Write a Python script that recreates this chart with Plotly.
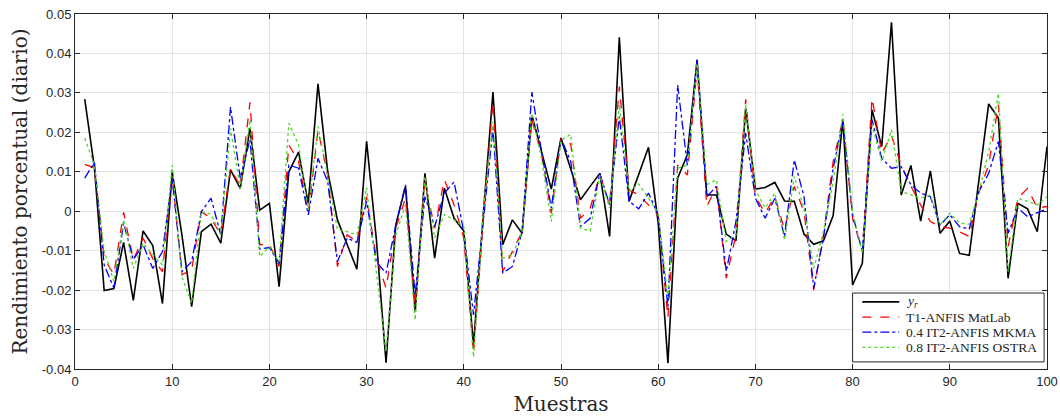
import plotly.graph_objects as go

muestras = list(range(1, 101))

y_r = [0.0284, 0.011, -0.0201, -0.0196, -0.0079, -0.0226, -0.005, -0.0087, -0.0234, 0.010,
       -0.006, -0.0242, -0.0052, -0.0033, -0.0081, 0.0105, 0.0058, 0.021, 0.0003, 0.002,
       -0.0191, 0.010, 0.015, 0.002, 0.0323, 0.010, -0.0022, -0.0085, -0.0147, 0.0177,
       -0.007, -0.0384, -0.0035, 0.0063, -0.0254, 0.0096, -0.0119, 0.0058, -0.0018, -0.005,
       -0.034, -0.001, 0.0302, -0.0085, -0.0022, -0.0056, 0.0244, 0.0151, 0.0056, 0.0185,
       0.0109, 0.0029, 0.0063, 0.0096, -0.0064, 0.0441, 0.0025, 0.0092, 0.0162, -0.003,
       -0.0385, 0.0084, 0.0143, 0.0384, 0.0041, 0.0041, -0.0058, -0.0075, 0.0261, 0.0056,
       0.006, 0.0073, 0.0026, 0.0025, -0.0058, -0.0084, -0.0075, -0.0011, 0.0232, -0.0187,
       -0.0132, 0.0257, 0.0164, 0.0479, 0.0041, 0.0116, -0.0025, 0.0102, -0.0056, -0.0025,
       -0.0107, -0.0112, 0.0075, 0.0272, 0.0236, -0.017, 0.002, 0.0006, -0.0052, 0.0164]

t1_matlab = [0.0119, 0.011, -0.012, -0.016, -0.0003, -0.0123, -0.0068, -0.012, -0.0153, 0.009,
             -0.0161, -0.0149, -0.0001, -0.0018, -0.006, 0.0109, 0.0063, 0.0276, -0.0085, -0.0084,
             -0.014, 0.0168, 0.0126, -0.0005, 0.0206, 0.009, -0.014, -0.006, -0.0077, 0.0037,
             -0.0119, -0.0195, -0.0043, 0.0033, -0.0238, 0.0075, -0.0043, 0.008, 0.0016, -0.0068,
             -0.036, -0.002, 0.0278, -0.0153, -0.0102, -0.0052, 0.0232, 0.0143, -0.0005, 0.0185,
             0.017, -0.0018, 0.0008, 0.0092, 0.0016, 0.0316, 0.0054, 0.0041, 0.0016, -0.001,
             -0.027, 0.0117, 0.0092, 0.0363, 0.0012, 0.0063, -0.017, -0.006, 0.0284, 0.0037,
             -0.0005, 0.0037, -0.0047, 0.0063, -0.0001, -0.020, -0.006, 0.0126, 0.0232, -0.0018,
             -0.0102, 0.0287, 0.0147, 0.0192, 0.0117, 0.0063, 0.0016, -0.0026, -0.0039, -0.0043,
             -0.0052, -0.0064, 0.005, 0.0117, 0.027, -0.009, 0.0033, 0.0058, 0.0008, 0.0012]

it2_mkma = [0.0084, 0.0124, -0.0136, -0.0195, -0.003, -0.0123, -0.0085, -0.0145, -0.0102, 0.0084,
            -0.0153, -0.0128, -0.0001, 0.0033, -0.006, 0.0264, 0.0084, 0.0181, -0.0096, -0.0092,
            -0.0132, 0.0117, 0.0109, -0.0009, 0.0134, 0.0075, -0.0128, -0.0068, -0.0079, 0.0025,
            -0.0128, -0.0157, -0.0035, 0.0067, -0.0212, 0.0037, -0.0039, 0.0046, 0.0074, -0.0052,
            -0.0263, -0.003, 0.021, -0.0157, -0.014, -0.0052, 0.0302, 0.0151, 0.0008, 0.0185,
            0.0126, -0.0039, -0.0018, 0.0096, 0.0016, 0.024, 0.0025, 0.0006, 0.0046, -0.001,
            -0.0242, 0.032, 0.0117, 0.0384, 0.0037, 0.0063, -0.0153, -0.0026, 0.0198, 0.0033,
            -0.0018, 0.0033, -0.0064, 0.013, 0.0037, -0.0195, -0.0068, 0.0109, 0.0227, -0.0009,
            -0.0102, 0.0232, 0.0134, 0.0109, 0.0113, 0.0067, 0.0046, 0.0037, -0.0035, -0.0009,
            -0.0039, -0.0045, 0.005, 0.0096, 0.0177, -0.0056, 0.0008, -0.0014, -0.0005, 0.0006]

it2_ostra = [0.0185, 0.0117, -0.010, -0.0178, -0.0022, -0.0145, -0.0081, -0.011, -0.0136, 0.0117,
             -0.0166, -0.0233, -0.0001, -0.0008, -0.006, 0.021, 0.0058, 0.0232, -0.0115, -0.009,
             -0.0128, 0.0223, 0.0168, 0.0003, 0.0215, 0.009, -0.0047, -0.0052, -0.006, 0.006,
             -0.0153, -0.0356, -0.006, 0.0016, -0.0276, 0.0088, -0.0068, -0.0008, -0.0022, -0.0039,
             -0.037, 0.0, 0.0227, -0.0119, -0.011, -0.0052, 0.0248, 0.0134, -0.0026, 0.018,
             0.0195, -0.0043, -0.005, 0.0092, 0.0008, 0.027, 0.005, 0.0069, 0.0033, -0.0005,
             -0.022, 0.0109, 0.0117, 0.0375, 0.0067, 0.008, -0.0077, -0.006, 0.027, 0.0054,
             0.0008, 0.0046, -0.0073, 0.0088, 0.0008, -0.0145, -0.0052, 0.0075, 0.0246, -0.0001,
             -0.0107, 0.0219, 0.0126, 0.0206, 0.005, 0.0041, 0.0033, 0.0041, -0.0035, -0.0005,
             -0.003, -0.0033, 0.005, 0.0151, 0.0299, -0.0153, 0.0033, 0.0025, 0.0016, 0.0037]

series_names = ["<i>y<sub>r</sub></i>", "T1-ANFIS MatLab", "0.4 IT2-ANFIS MKMA", "0.8 IT2-ANFIS OSTRA"]

x_ticks = list(range(0, 101, 10))
y_ticks = [-0.04, -0.03, -0.02, -0.01, 0, 0.01, 0.02, 0.03, 0.04, 0.05]
y_ticktext = ["-0.04", "-0.03", "-0.02", "-0.01", "0", "0.01", "0.02", "0.03", "0.04", "0.05"]

serif = "DejaVu Serif"
legend_serif = "Liberation Serif"
sans = "Liberation Sans"

styles = [dict(color="black", width=1.6, dash="solid"),
          dict(color="#ff0000", width=1.3, dash="dash"),
          dict(color="#0000ff", width=1.3, dash="dashdot"),
          dict(color="#4fd62a", width=1.3, dash="dot")]

fig = go.Figure()
for vals, name, st in zip([y_r, t1_matlab, it2_mkma, it2_ostra], series_names, styles):
    fig.add_trace(go.Scatter(x=muestras, y=vals, mode="lines", name=name,
                             line=st, showlegend=False))

axis_common = dict(showline=True, linecolor="#262626", linewidth=1, mirror="ticks",
                   ticks="inside", ticklen=5, tickcolor="#262626", automargin=False,
                   showgrid=True, gridcolor="#e3e3e3", gridwidth=1, zeroline=False,
                   tickfont=dict(family=sans, size=13, color="#262626"))

# Legend box drawn in paper coordinates (MATLAB-like compact legend)
shapes = [dict(type="rect", xref="paper", yref="paper", x0=0.800, x1=0.997, y0=0.020, y1=0.214,
               line=dict(color="#262626", width=1), fillcolor="white", layer="above")]
annotations = []
row_y = [0.189, 0.146, 0.104, 0.061]
for name, st, yy in zip(series_names, styles, row_y):
    shapes.append(dict(type="line", xref="paper", yref="paper", x0=0.810, x1=0.848, y0=yy, y1=yy,
                       line=st, layer="above"))
    annotations.append(dict(xref="paper", yref="paper", x=0.853, y=yy, xanchor="left", yanchor="middle",
                            text=name, showarrow=False,
                            font=dict(family=legend_serif, size=13.5, color="#262626")))

# Y-axis title as rotated annotation (to place it like MATLAB)
annotations.append(dict(xref="paper", yref="paper", x=-0.0575, y=0.5, xanchor="center", yanchor="middle",
                        text="Rendimiento porcentual (diario)", textangle=-90, showarrow=False,
                        font=dict(family=serif, size=20, color="#262626")))

fig.update_layout(
    width=1060, height=416,
    margin=dict(l=75, r=13, t=14, b=47),
    paper_bgcolor="white", plot_bgcolor="white",
    xaxis=dict(range=[0, 100], tickvals=x_ticks,
               title=dict(text="Muestras", font=dict(family=serif, size=20, color="#262626")),
               **axis_common),
    yaxis=dict(range=[-0.04, 0.05], tickvals=y_ticks, ticktext=y_ticktext,
               **axis_common),
    shapes=shapes,
    annotations=annotations,
    showlegend=False,
)

fig.write_html("out.html")
